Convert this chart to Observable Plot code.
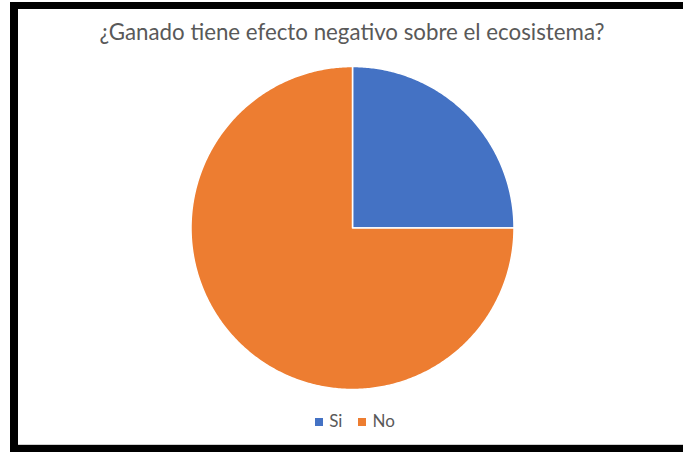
<!DOCTYPE html>
<html>
<head>
<meta charset="utf-8">
<script src="https://cdn.jsdelivr.net/npm/d3@7"></script>
<script src="https://cdn.jsdelivr.net/npm/@observablehq/plot@0.6"></script>
<style>
  html, body { margin: 0; padding: 0; background: #fff; }
  #frame { position: relative; width: 683px; height: 452px; overflow: hidden; background: #fff; font-family: Lato, "Open Sans", sans-serif; }
  .bar { position: absolute; background: #000; }
  #title { position: absolute; left: 0; width: 704px; top: 18px; text-align: center; font-size: 22.3px; color: #595959; white-space: nowrap; }
  #chart { position: absolute; left: 0; top: 60px; }
  #legend { position: absolute; left: 0; width: 710px; top: 410px; text-align: center; font-size: 17px; color: #595959; }
  #legend span.sw { display: inline-block; width: 8px; height: 8px; margin-right: 6px; vertical-align: 1px; }
  #legend span.item { margin: 0 8px; }
</style>
</head>
<body>
<div id="frame">
  <div class="bar" style="left:10px;top:2px;width:673px;height:7px"></div>
  <div class="bar" style="left:10px;top:2px;width:8px;height:450px"></div>
  <div class="bar" style="left:10px;top:445px;width:673px;height:7px"></div>
  <div style="position:absolute;left:18px;top:444px;width:665px;height:1px;background:#d0d0d0"></div>
  <div id="title"></div>
  <div id="chart"></div>
  <div id="legend"></div>
</div>
<script>
const titleText = "¿Ganado tiene efecto negativo sobre el ecosistema?";
const categories = ["Si", "No"];
const values = [25, 75];
const colors = ["#4472C4", "#ED7D31"];

document.getElementById("title").textContent = titleText;

const data = categories.map((name, i) => ({name, value: values[i]}));
const arcs = d3.pie().sort(null).value(d => d.value)(data);

// build closed polygons for each slice from the pie angles
const pts = [];
for (const a of arcs) {
  pts.push({name: a.data.name, x: 0, y: 0});
  const n = Math.max(2, Math.ceil((a.endAngle - a.startAngle) / 0.01));
  for (let k = 0; k <= n; k++) {
    const t = a.startAngle + (a.endAngle - a.startAngle) * k / n;
    pts.push({name: a.data.name, x: Math.sin(t), y: Math.cos(t)});
  }
}

const cx = 352, cy = 227.5 - 60, r = 161.5;
const chart = Plot.plot({
  width: 683,
  height: 340,
  margin: 0,
  x: {domain: [-1, 1], range: [cx - r, cx + r], axis: null},
  y: {domain: [-1, 1], range: [cy + r, cy - r], axis: null},
  color: {domain: categories, range: colors, legend: false},
  marks: [
    Plot.line(pts, {x: "x", y: "y", z: "name", fill: "name", stroke: "white", strokeWidth: 1.5, curve: "linear-closed"})
  ]
});
document.getElementById("chart").appendChild(chart);

const legend = document.getElementById("legend");
categories.forEach((c, i) => {
  const item = document.createElement("span");
  item.className = "item";
  const sw = document.createElement("span");
  sw.className = "sw";
  sw.style.background = colors[i];
  item.appendChild(sw);
  item.appendChild(document.createTextNode(c));
  legend.appendChild(item);
});
</script>
</body>
</html>
